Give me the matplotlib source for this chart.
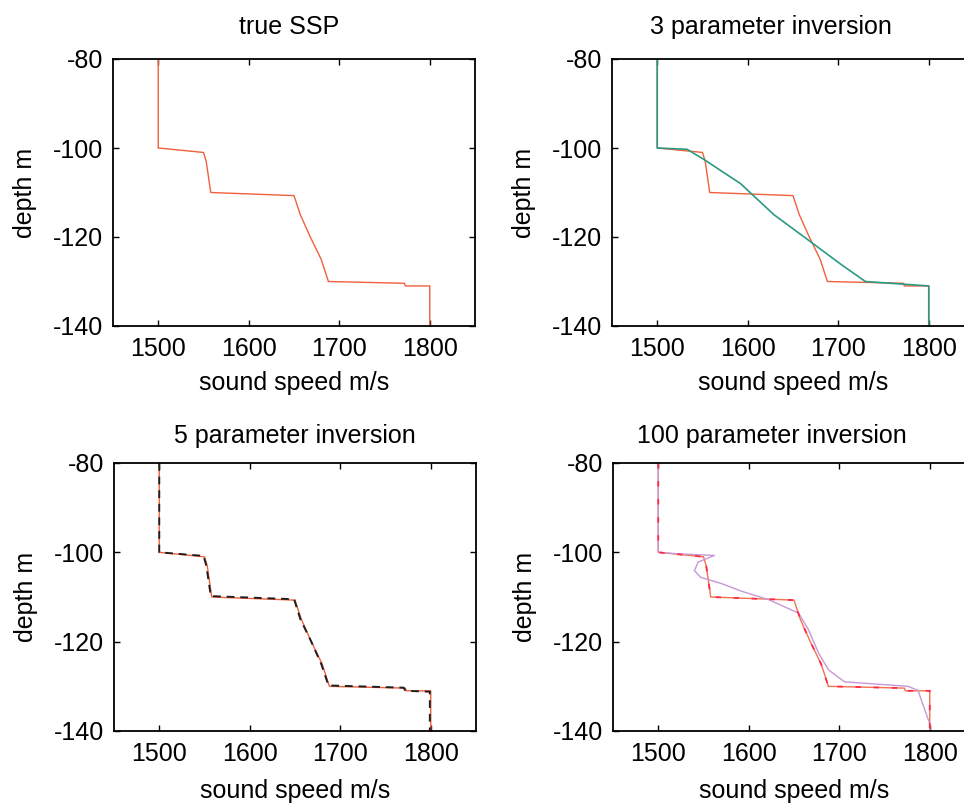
import matplotlib
matplotlib.use('Agg')
import matplotlib.pyplot as plt

# true sound speed profile (m/s) vs depth (m)
true_c = [1500, 1500, 1550, 1553, 1558, 1650, 1657, 1668, 1680, 1688, 1772, 1773, 1800, 1800]
true_z = [-80, -100, -101, -103, -110, -110.7, -115, -120, -125, -130, -130.4, -131, -131, -140]

# 3 parameter inversion
inv3_c = [1500, 1500, 1533, 1551, 1592, 1629, 1669, 1702, 1730, 1800, 1800]
inv3_z = [-80, -100, -100.3, -102.5, -108, -115, -121, -126, -130, -131, -140]

# 5 parameter inversion (almost on top of the true profile)
inv5_c = [1500, 1500, 1549, 1552, 1557, 1649, 1656, 1668, 1679, 1687, 1770, 1772, 1799, 1799]
inv5_z = [-80, -100, -100.8, -103, -109.8, -110.5, -115, -120, -125, -129.8, -130.3, -131, -131.2, -140]

# 100 parameter inversion
inv100_c = [1500, 1500, 1520, 1562, 1544, 1540, 1547, 1570, 1592, 1622, 1655, 1666, 1677, 1688, 1706, 1776, 1787, 1800, 1800]
inv100_z = [-80, -100, -100.3, -100.7, -102.2, -104.1, -105.6, -107, -108.7, -110.6, -113.6, -117.3, -122.5, -126.3, -129, -130, -130.9, -138.4, -140]

xticks = [1500, 1600, 1700, 1800]
yticks = [-140, -120, -100, -80]

W, H = 964, 806
plt.rcParams['font.family'] = ['Liberation Sans', 'DejaVu Sans']
plt.rcParams['axes.unicode_minus'] = False
fig = plt.figure(figsize=(W / 100, H / 100), dpi=100)

# axes boxes in pixels: left, top, width, height
boxes = [(113, 59, 362, 267), (612, 59, 362, 267),
         (114, 463, 362, 268), (613, 463, 362, 268)]
titles = ['true SSP', '3 parameter inversion', '5 parameter inversion', '100 parameter inversion']
title_pos = [(289, 27), (771, 27), (295, 436), (772, 436)]
xlab_y = [-0.17, -0.17, -0.178, -0.178]

red = '#f0603c'
axes = []
for (l, t, w, h), ly in zip(boxes, xlab_y):
    ax = fig.add_axes([l / W, 1 - (t + h) / H, w / W, h / H])
    ax.set_xlim(1450, 1850)
    ax.set_ylim(-140, -80)
    ax.set_xticks(xticks)
    ax.set_yticks(yticks)
    ax.tick_params(direction='in', length=4, width=1, top=True, right=True,
                   labelsize=18)
    ax.tick_params(axis='x', pad=8)
    ax.tick_params(axis='y', pad=7)
    for s in ax.spines.values():
        s.set_linewidth(1.3)
    ax.set_ylabel('depth m', fontsize=18)
    ax.yaxis.set_label_coords(-0.21, 0.5)
    ax.set_xlabel('sound speed m/s', fontsize=18)
    ax.xaxis.set_label_coords(0.5, ly)
    axes.append(ax)

for (x, y), txt in zip(title_pos, titles):
    fig.text(x / W, 1 - y / H, txt, ha='center', va='center', fontsize=18)

ax1, ax2, ax3, ax4 = axes
ax1.plot(true_c, true_z, color=red, lw=1)

ax2.plot(true_c, true_z, color=red, lw=1)
ax2.plot(inv3_c, inv3_z, color='#2b9a82', lw=1.2)

ax3.plot(true_c, true_z, color=red, lw=1)
ax3.plot(inv5_c, inv5_z, color='#202020', lw=1.4, dashes=(4, 3))

ax4.plot(true_c, true_z, color='#f07050', lw=1)
ax4.plot(inv100_c, inv100_z, color='#c898d8', lw=1)
ax4.plot(true_c, true_z, color='#ff2a4a', lw=1.3, dashes=(3, 7))

fig.savefig('out.png', dpi=100)
